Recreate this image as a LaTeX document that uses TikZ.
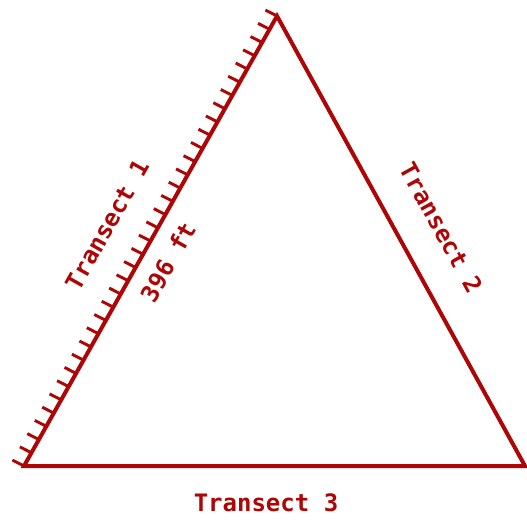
\documentclass[tikz,border=0pt]{standalone}
\usepackage{fontspec}
\usetikzlibrary{calc}
\newfontfamily\transectfont{DejaVu Sans Mono}
\definecolor{transred}{RGB}{172,6,6}

\begin{document}
\begin{tikzpicture}[
  x=0.75pt, y=0.75pt,
  edge/.style={draw=transred,line width=3pt,line join=miter},
  tickmark/.style={draw=transred,line width=2.2pt},
  lbl/.style={text=transred,font=\transectfont\bfseries\fontsize{18}{20}\selectfont,inner sep=0pt}
]
\useasboundingbox (0,0) rectangle (527,522);

\coordinate (top) at (277,506);
\coordinate (bl) at (24,56);
\coordinate (br) at (525,56);

\draw[edge] (bl) -- (top) -- (br) -- cycle;

% tick marks along transect 1
\foreach \i in {0,...,34}
  \draw[tickmark] ($(bl)!\i/34!(top)$) -- ++(153:13);

\node[lbl,rotate=60.6] (t1) at (107,297) {Transect 1};
\node[lbl,rotate=60.6] (len) at (168,260) {396 ft};
\node[lbl,rotate=-61.1] (t2) at (441,294) {Transect 2};
\node[lbl] (t3) at (266,19) {Transect 3};
\end{tikzpicture}
\end{document}
